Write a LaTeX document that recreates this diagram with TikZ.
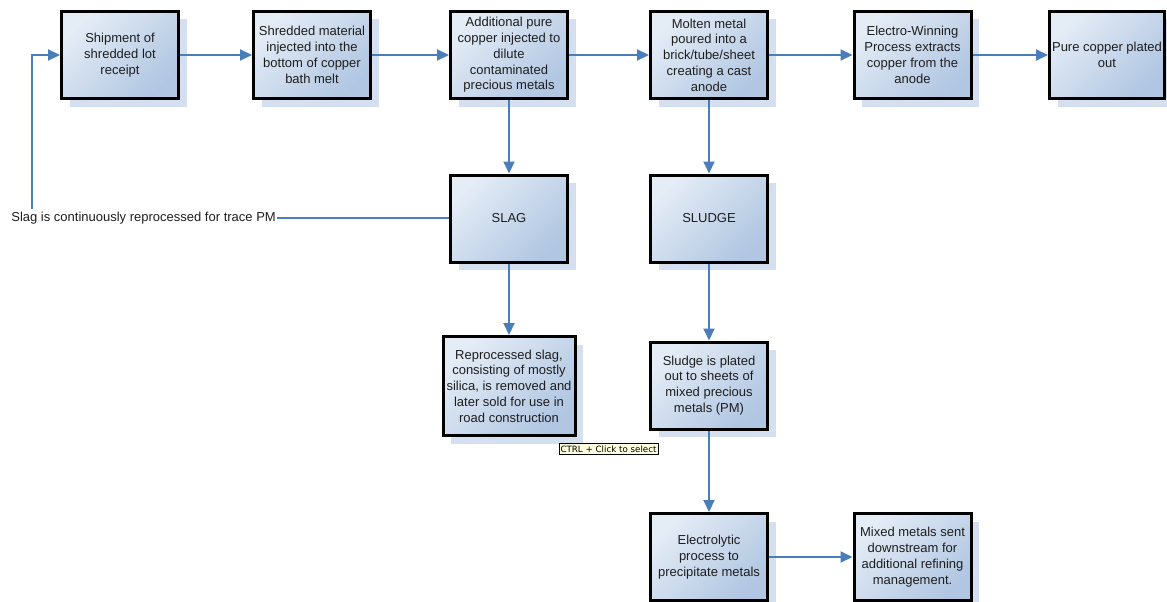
\documentclass[tikz,border=0pt]{standalone}
\usepackage{fontspec}
\setmainfont{Liberation Sans}
\newfontfamily\tipfont{DejaVu Sans}
\usetikzlibrary{arrows.meta,shadows}
\definecolor{linec}{RGB}{74,126,187}
\definecolor{gradA}{RGB}{228,236,246}
\definecolor{gradB}{RGB}{176,198,226}
\definecolor{shadc}{RGB}{212,224,240}
\definecolor{textc}{RGB}{30,30,30}
\definecolor{tipc}{RGB}{255,255,225}
\tikzset{
  box/.style={draw=black, line width=3pt, top color=gradA, bottom color=gradB, shading angle=45,
    minimum width=117pt, minimum height=87pt, align=center, inner sep=2pt,
    font=\fontsize{13}{15.8}\selectfont, text=textc,
    drop shadow={shadow xshift=8pt, shadow yshift=-8pt, fill=shadc, opacity=1}},
  conn/.style={draw=linec, line width=2pt},
  arr/.style={conn, -{Triangle[length=12pt,width=11pt]}},
  lbl/.style={font=\fontsize{13}{15.8}\selectfont, text=textc, inner sep=1pt},
  tip/.style={draw=black, line width=0.7pt, fill=tipc, font=\tipfont\fontsize{8.7}{10}\selectfont, inner xsep=1.5pt, inner ysep=1.8pt, text=black}
}
\begin{document}
\begin{tikzpicture}[x=1pt,y=-1pt]
\useasboundingbox[fill=white] (0,0) rectangle (1167,602);
% top row
\node[box] (b1) at (120,55) {Shipment of\\shredded lot\\receipt};
\node[box] (b2) at (312,55) {Shredded material\\injected into the\\bottom of copper\\bath melt};
\node[box] (b3) at (509,55) {Additional pure\\copper injected to\\dilute\\contaminated\\precious metals};
\node[box] (b4) at (709,55) {Molten metal\\poured into a\\brick/tube/sheet\\creating a cast\\anode};
\node[box] (b5) at (912.5,55) {Electro-Winning\\Process extracts\\copper from the\\anode};
\node[box, minimum width=115pt] (b6) at (1107,55) {Pure copper plated\\out};
% second row
\node[box] (slag) at (509,218.5) {SLAG};
\node[box] (sludge) at (709,218.5) {SLUDGE};
% third row
\node[box, minimum width=132pt, minimum height=99pt] (rs) at (509,386) {Reprocessed slag,\\consisting of mostly\\silica, is removed and\\later sold for use in\\road construction};
\node[box] (sp) at (709,385.5) {Sludge is plated\\out to sheets of\\mixed precious\\metals (PM)};
% fourth row
\node[box] (el) at (709,557) {Electrolytic\\process to\\precipitate metals};
\node[box] (mm) at (912.5,557) {Mixed metals sent\\downstream for\\additional refining\\management.};
% label
\node[lbl, anchor=east] (lab) at (277,218) {Slag is continuously reprocessed for trace PM};
\coordinate (up) at (32,209);
% tooltip
\node[tip] (tt) at (608.5,449) {CTRL + Click to select};
% connectors
\draw[arr] (b1) -- (b2);
\draw[arr] (b2) -- (b3);
\draw[arr] (b3) -- (b4);
\draw[arr] (b4) -- (b5);
\draw[arr] (b5) -- (b6);
\draw[arr] (b3) -- (slag);
\draw[arr] (b4) -- (sludge);
\draw[arr] (slag) -- (rs);
\draw[arr] (sludge) -- (sp);
\draw[arr] (sp) -- (el);
\draw[arr] (el) -- (mm);
\draw[conn] (lab.east) -- (lab.east -| slag.west);
\draw[arr] (up) |- (b1.west);
\end{tikzpicture}
\end{document}
